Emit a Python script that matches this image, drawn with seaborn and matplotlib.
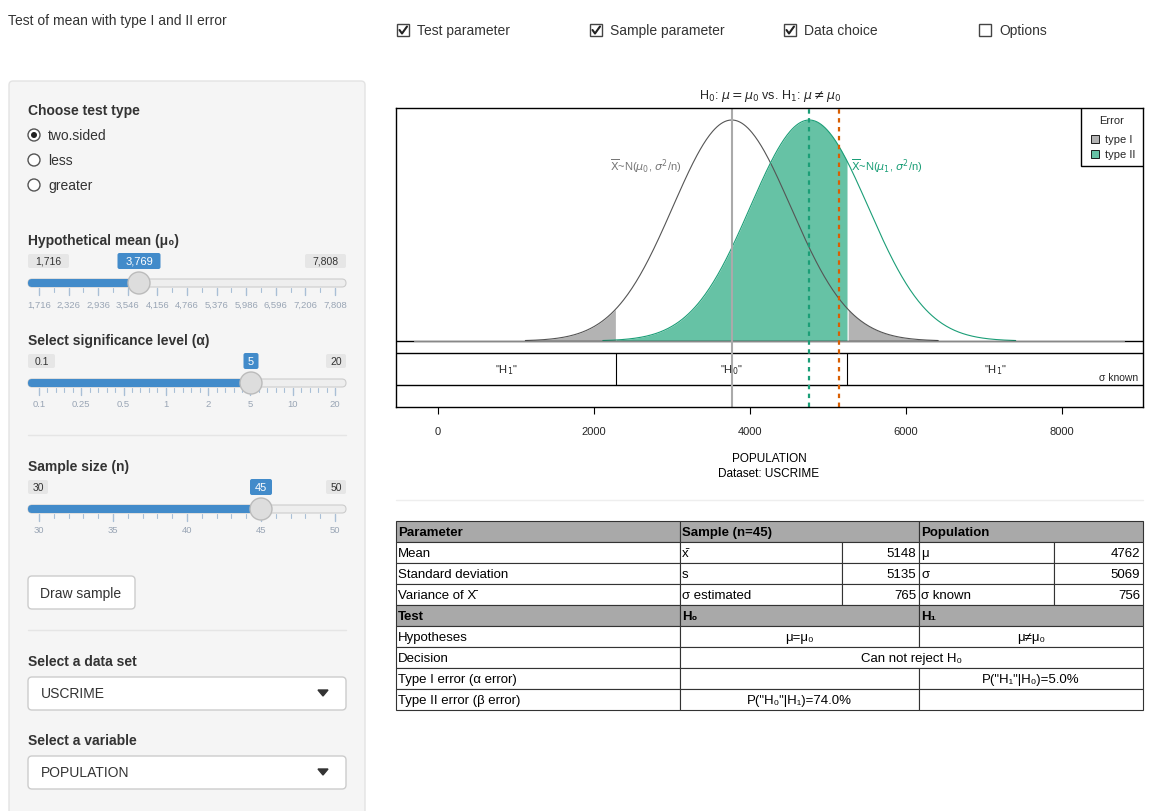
import numpy as np
import pandas as pd
import matplotlib
matplotlib.use("Agg")
import matplotlib.pyplot as plt
from matplotlib.patches import Rectangle, Circle, FancyBboxPatch
import seaborn as sns

# ---- data ----
mu0 = 3769
mu1 = 4762
se = 756
crit_lo = 2287
crit_hi = 5251
xbar = 5148
xticks = [0, 2000, 4000, 6000, 8000]
checkbox_labels = ["Test parameter", "Sample parameter", "Data choice", "Options"]
checkbox_state = [True, True, True, False]
test_types = ["two.sided", "less", "greater"]
mu_ticks = ["1,716", "2,326", "2,936", "3,546", "4,156", "4,766", "5,376", "5,986", "6,596", "7,206", "7,808"]
alpha_ticks = ["0.1", "0.25", "0.5", "1", "2", "5", "10", "20"]
n_ticks = ["30", "35", "40", "45", "50"]

sns.set_theme(style="white")
plt.rcParams['font.family'] = ['Liberation Sans', 'DejaVu Sans']
W, H = 1154, 812
fig = plt.figure(figsize=(W/100, H/100), dpi=100)
fig.patch.set_facecolor("white")

# overlay axes in pixel coords
ui = fig.add_axes([0, 0, 1, 1])
ui.set_xlim(0, W); ui.set_ylim(H, 0); ui.axis("off")
TXT = "#333333"

ui.text(8, 21, "Test of mean with type I and II error", fontsize=10, color=TXT, va="center")
for i, (lab, st) in enumerate(zip(checkbox_labels, checkbox_state)):
    x = [397, 590, 784, 979][i]
    ui.add_patch(Rectangle((x, 25), 12, 12, fill=False, ec="#444", lw=1))
    if st:
        ui.plot([x+2.5, x+5, x+10], [31, 34.5, 27.5], color="#222", lw=1.5)
    ui.text(x+20, 31, lab, fontsize=10, color=TXT, va="center")

# sidebar
ui.add_patch(FancyBboxPatch((9, 82), 356, 740, boxstyle="round,pad=0,rounding_size=4",
                            fc="#f5f5f5", ec="#e3e3e3", lw=1))
ui.text(28, 111, "Choose test type", fontsize=10, weight="bold", color=TXT, va="center")
for i, t in enumerate(test_types):
    y = 136 + 25*i
    ui.add_patch(Circle((34, y), 6, fc="white", ec="#555", lw=1))
    if i == 0:
        ui.add_patch(Circle((34, y), 3, fc="#222", ec="none"))
    ui.text(48, y, t, fontsize=10, color=TXT, va="center")

def slider(ytitle, title, ybar, lo, hi, val, xh, ticks, minor=3):
    ui.text(28, ytitle, title, fontsize=10, weight="bold", color=TXT, va="center")
    for lab, xx, fc, tc in [(lo, 28, "#e6e6e6", "#333"), (hi, 346, "#e6e6e6", "#333")]:
        wbox = 7*len(lab)+6
        x0 = xx if xx == 28 else xx - wbox
        ui.add_patch(FancyBboxPatch((x0, ybar-29), wbox, 14, boxstyle="round,pad=0,rounding_size=2", fc=fc, ec="none"))
        ui.text(x0+wbox/2, ybar-22, lab, fontsize=7.5, color=tc, ha="center", va="center")
    wv = 7*len(val)+8
    ui.add_patch(FancyBboxPatch((xh-wv/2, ybar-30), wv, 16, boxstyle="round,pad=0,rounding_size=2", fc="#428bca", ec="none"))
    ui.text(xh, ybar-22, val, fontsize=8, color="white", ha="center", va="center")
    ui.add_patch(FancyBboxPatch((28, ybar-4), 318, 8, boxstyle="round,pad=0,rounding_size=4", fc="#eeeeee", ec="#cccccc", lw=0.8))
    ui.add_patch(FancyBboxPatch((28, ybar-4), xh-28, 8, boxstyle="round,pad=0,rounding_size=4", fc="#428bca", ec="none"))
    ui.add_patch(Circle((xh, ybar), 11, fc="#dddddd", ec="#bbbbbb", lw=1, zorder=5))
    n = len(ticks)
    pos = np.linspace(39, 335, n)
    for j, (p, t) in enumerate(zip(pos, ticks)):
        ui.plot([p, p], [ybar+5, ybar+12], color="#a9bfd6", lw=1)
        ui.text(p, ybar+21, t, fontsize=6.8, color="#99a5b5", ha="center", va="center")
        if j < n-1:
            for k in range(1, minor+1):
                q = p + (pos[j+1]-p)*k/(minor+1)
                ui.plot([q, q], [ybar+5, ybar+9], color="#a9bfd6", lw=0.8)

slider(241, "Hypothetical mean (μ₀)", 284, "1,716", "7,808", "3,769", 139, mu_ticks, 1)
slider(341, "Select significance level (α)", 384, "0.1", "20", "5", 251, alpha_ticks, 4)
ui.plot([28, 346], [436, 436], color="#e5e5e5", lw=1)
slider(467, "Sample size (n)", 510, "30", "50", "45", 261, n_ticks, 4)
ui.add_patch(FancyBboxPatch((28, 577), 107, 33, boxstyle="round,pad=0,rounding_size=4", fc="white", ec="#cccccc", lw=1))
ui.text(81, 594, "Draw sample", fontsize=10, color=TXT, ha="center", va="center")
ui.plot([28, 346], [631, 631], color="#e5e5e5", lw=1)
for ytit, tit, val in [(662, "Select a data set", "USCRIME"), (741, "Select a variable", "POPULATION")]:
    ui.text(28, ytit, tit, fontsize=10, weight="bold", color=TXT, va="center")
    ui.add_patch(FancyBboxPatch((28, ytit+16), 318, 33, boxstyle="round,pad=0,rounding_size=4", fc="white", ec="#cccccc", lw=1))
    ui.text(41, ytit+32, val, fontsize=10, color=TXT, va="center")
    ui.fill([318, 328, 323], [ytit+29, ytit+29, ytit+35], color="#333")

# separator and labels under chart
ui.plot([396, 1143], [501, 501], color="#eeeeee", lw=1)
ui.text(769, 459, "POPULATION", fontsize=8.5, color="black", ha="center", va="center")
ui.text(769, 474, "Dataset: USCRIME", fontsize=8.5, color="black", ha="center", va="center")
ui.text(770, 96, r"H$_0$: $\mu = \mu_0$ vs. H$_1$: $\mu \neq \mu_0$", fontsize=9, ha="center", va="center")

# table
cols = [396, 680, 842, 919, 1054, 1143]
rows = [522 + 21*i for i in range(10)]
GR = "#a9a9a9"
fs = 9.5
def cell(x0, x1, r, text="", ha="left", bg="white", bold=False):
    ui.add_patch(Rectangle((x0, rows[r]), x1-x0, 21, fc=bg, ec="#333", lw=0.8))
    if text:
        xt = x0+2 if ha == "left" else (x1-3 if ha == "right" else (x0+x1)/2)
        ui.text(xt, rows[r]+11, text, fontsize=fs, ha=ha, va="center", color="black",
                weight="bold" if bold else "normal")
cell(cols[0], cols[1], 0, "Parameter", bg=GR, bold=True)
cell(cols[1], cols[3], 0, "Sample (n=45)", bg=GR, bold=True)
cell(cols[3], cols[5], 0, "Population", bg=GR, bold=True)
body = [("Mean", "x̄", "5148", "μ", "4762"),
        ("Standard deviation", "s", "5135", "σ", "5069"),
        ("Variance of X̄", "σ estimated", "765", "σ known", "756")]
for i, rw in enumerate(body):
    r = i+1
    cell(cols[0], cols[1], r, rw[0]); cell(cols[1], cols[2], r, rw[1])
    cell(cols[2], cols[3], r, rw[2], ha="right"); cell(cols[3], cols[4], r, rw[3])
    cell(cols[4], cols[5], r, rw[4], ha="right")
cell(cols[0], cols[1], 4, "Test", bg=GR, bold=True)
cell(cols[1], cols[3], 4, "H₀", bg=GR, bold=True)
cell(cols[3], cols[5], 4, "H₁", bg=GR, bold=True)
cell(cols[0], cols[1], 5, "Hypotheses"); cell(cols[1], cols[3], 5, "μ=μ₀", ha="center"); cell(cols[3], cols[5], 5, "μ≠μ₀", ha="center")
cell(cols[0], cols[1], 6, "Decision"); cell(cols[1], cols[5], 6, "Can not reject H₀", ha="center")
cell(cols[0], cols[1], 7, "Type I error (α error)"); cell(cols[1], cols[3], 7); cell(cols[3], cols[5], 7, 'P("H₁"|H₀)=5.0%', ha="center")
cell(cols[0], cols[1], 8, "Type II error (β error)"); cell(cols[1], cols[3], 8, 'P("H₀"|H₁)=74.0%', ha="center"); cell(cols[3], cols[5], 8)

# ---- main chart ----
L, R, T, B = 396, 1143, 109, 408
ax = fig.add_axes([L/W, 1-B/H, (R-L)/W, (B-T)/H])
pk = 1/(se*np.sqrt(2*np.pi))
u = pk/221.0  # density per pixel
ax.set_ylim(-66*u, 233*u)
px = (R-L)/(9040+535)
ax.set_xlim(-535, 9040)

x0 = np.linspace(mu0-3.5*se, mu0+3.5*se, 400)
x1 = np.linspace(mu1-3.5*se, mu1+3.5*se, 400)
f0 = np.exp(-0.5*((x0-mu0)/se)**2)*pk
f1 = np.exp(-0.5*((x1-mu1)/se)**2)*pk
df0 = pd.DataFrame({"x": x0, "y": f0}); df1 = pd.DataFrame({"x": x1, "y": f1})

m = (x1 >= crit_lo) & (x1 <= crit_hi)
ax.fill_between(x1[m], 0, f1[m], color="#66C2A5", lw=0)
ml = x0 <= crit_lo; mh = x0 >= crit_hi
ax.fill_between(x0[ml], 0, f0[ml], color="#B3B3B3", lw=0)
ax.fill_between(x0[mh], 0, f0[mh], color="#B3B3B3", lw=0)
sns.lineplot(data=df0, x="x", y="y", ax=ax, color="#555555", lw=0.8)
sns.lineplot(data=df1, x="x", y="y", ax=ax, color="#1B9E77", lw=0.8)

ax.axhline(0, color="black", lw=1)
ax.plot([-300, 8800], [0, 0], color="#888", lw=0.8)
ax.axhline(-12*u, color="black", lw=1)
ax.axhline(-44*u, color="black", lw=1)
for c in [crit_lo, crit_hi]:
    ax.plot([c, c], [-12*u, -44*u], color="black", lw=0.8)
ax.axvline(mu0, color="#aaaaaa", lw=1.5)
ax.axvline(mu1, color="#1B9E77", lw=1.6, ls=(0, (2, 2)))
ax.axvline(xbar, color="#D95F02", lw=1.6, ls=(0, (2, 2)))
ym = -28*u
ax.text((-535+crit_lo)/2, ym, '"H$_1$"', fontsize=8, ha="center", va="center")
ax.text((crit_lo+crit_hi)/2, ym, '"H$_0$"', fontsize=8, ha="center", va="center")
ax.text((crit_hi+9040)/2, ym, '"H$_1$"', fontsize=8, ha="center", va="center")
ax.text(8980, -36*u, "σ known", fontsize=7.5, ha="right", va="center")
ax.text(3120, 176*u, r"$\overline{\rm X}$~N($\mu_0$, $\sigma^2$/n)", fontsize=8, color="#777", ha="right", va="center")
ax.text(5300, 176*u, r"$\overline{\rm X}$~N($\mu_1$, $\sigma^2$/n)", fontsize=8, color="#1B9E77", ha="left", va="center")

# legend box
lx0 = 8240
ax.add_patch(Rectangle((lx0, 175*u), 9040-lx0, 58*u, fc="white", ec="black", lw=1, zorder=6))
ax.text((lx0+9040)/2, 221*u, "Error", fontsize=8, ha="center", va="center", zorder=7)
for k, (lab, col) in enumerate([("type I", "#B3B3B3"), ("type II", "#66C2A5")]):
    yy = (202-15*k)*u
    ax.add_patch(Rectangle((lx0+130, yy-4*u), 8/px, 8*u, fc=col, ec="black", lw=0.6, zorder=7))
    ax.text(lx0+130+14/px, yy, lab, fontsize=8, va="center", zorder=7)

ax.set_xticks(xticks)
ax.set_xticklabels([str(t) for t in xticks], fontsize=8)
ax.tick_params(axis="x", length=5, width=0.8, color="black", bottom=True, pad=9)
ax.set_yticks([])
ax.set_xlabel(""); ax.set_ylabel("")
for s in ax.spines.values():
    s.set_color("black"); s.set_linewidth(1)
ax.spines["bottom"].set_visible(True)

fig.savefig("out.png", dpi=100)
